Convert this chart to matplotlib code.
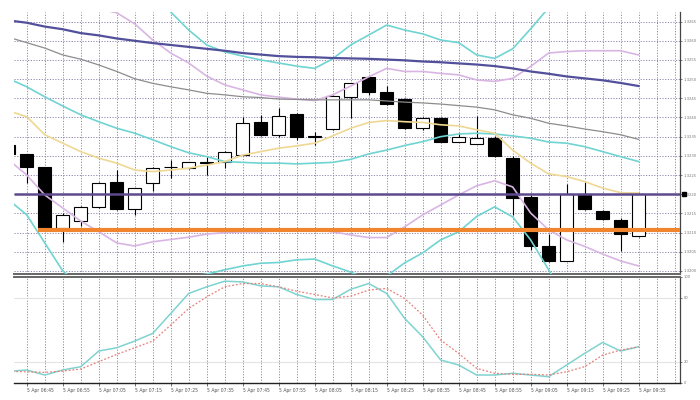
import matplotlib.pyplot as plt
import matplotlib.transforms as mtransforms
import numpy as np

# 5-minute candles, bar 0 is 5 Apr 06:40
opens = [1.32328, 1.32304, 1.32270, 1.32111, 1.32129, 1.32167, 1.32232, 1.32161, 1.32229, 1.32270,
         1.32268, 1.32282, 1.32283, 1.32302, 1.32388, 1.32355, 1.32409, 1.32349, 1.32369, 1.32454,
         1.32505, 1.32467, 1.32448, 1.32372, 1.32398, 1.32337, 1.32331, 1.32347, 1.32295, 1.32194,
         1.32065, 1.32027, 1.32201, 1.32156, 1.32133, 1.32091]
highs = [1.32331, 1.32305, 1.32271, 1.32151, 1.32169, 1.32232, 1.32263, 1.32217, 1.32271, 1.32289,
         1.32285, 1.32297, 1.32312, 1.32401, 1.32407, 1.32424, 1.32411, 1.32363, 1.32459, 1.32490,
         1.32508, 1.32482, 1.32451, 1.32401, 1.32400, 1.32360, 1.32404, 1.32352, 1.32300, 1.32198,
         1.32096, 1.32227, 1.32232, 1.32159, 1.32138, 1.32203]
lows = [1.32300, 1.32229, 1.32109, 1.32076, 1.32117, 1.32164, 1.32159, 1.32146, 1.32209, 1.32242,
        1.32267, 1.32250, 1.32269, 1.32301, 1.32352, 1.32349, 1.32342, 1.32328, 1.32368, 1.32399,
        1.32459, 1.32433, 1.32370, 1.32368, 1.32336, 1.32336, 1.32330, 1.32297, 1.32146, 1.32055,
        1.32023, 1.32026, 1.32159, 1.32133, 1.32052, 1.32089]
closes = [1.32305, 1.32272, 1.32111, 1.32146, 1.32167, 1.32229, 1.32161, 1.32216, 1.32268, 1.32272,
          1.32284, 1.32284, 1.32310, 1.32385, 1.32355, 1.32405, 1.32349, 1.32351, 1.32456, 1.32489,
          1.32467, 1.32435, 1.32372, 1.32398, 1.32337, 1.32349, 1.32347, 1.32299, 1.32190, 1.32065,
          1.32026, 1.32201, 1.32162, 1.32136, 1.32096, 1.32201]

# indicators on the price window
slow_ma = [1.32653, 1.32647, 1.32637, 1.32630, 1.32620, 1.32614, 1.32606, 1.32600, 1.32594, 1.32589,
           1.32584, 1.32579, 1.32574, 1.32568, 1.32564, 1.32560, 1.32558, 1.32557, 1.32555, 1.32554,
           1.32553, 1.32551, 1.32549, 1.32546, 1.32544, 1.32541, 1.32538, 1.32534, 1.32528, 1.32520,
           1.32514, 1.32507, 1.32502, 1.32497, 1.32490, 1.32482]
mid_ma = [1.32609, 1.32595, 1.32581, 1.32563, 1.32552, 1.32537, 1.32520, 1.32501, 1.32489, 1.32480,
          1.32472, 1.32463, 1.32459, 1.32454, 1.32452, 1.32448, 1.32447, 1.32446, 1.32446, 1.32446,
          1.32446, 1.32443, 1.32440, 1.32438, 1.32435, 1.32431, 1.32427, 1.32420, 1.32407, 1.32398,
          1.32385, 1.32378, 1.32370, 1.32363, 1.32355, 1.32343]
bb_mid = [1.32501, 1.32480, 1.32454, 1.32430, 1.32407, 1.32389, 1.32372, 1.32359, 1.32342, 1.32324,
          1.32308, 1.32298, 1.32285, 1.32283, 1.32281, 1.32281, 1.32279, 1.32281, 1.32283, 1.32291,
          1.32305, 1.32315, 1.32327, 1.32337, 1.32350, 1.32357, 1.32359, 1.32357, 1.32352, 1.32346,
          1.32336, 1.32333, 1.32324, 1.32311, 1.32298, 1.32285]
bb_upper = [1.32816, 1.32816, 1.32837, 1.32855, 1.32850, 1.32837, 1.32811, 1.32764, 1.32727, 1.32675,
            1.32628, 1.32589, 1.32571, 1.32560, 1.32550, 1.32542, 1.32534, 1.32528, 1.32553, 1.32589,
            1.32615, 1.32641, 1.32628, 1.32618, 1.32602, 1.32595, 1.32563, 1.32554, 1.32579, 1.32631,
            1.32686, 1.32746, 1.32785, 1.32811, 1.32824, 1.32832]
bb_lower = [1.32185, 1.32146, 1.32073, 1.32000, 1.31963, 1.31940, 1.31935, 1.31950, 1.31956, 1.31974,
            1.31984, 1.31992, 1.32003, 1.32013, 1.32020, 1.32022, 1.32029, 1.32031, 1.32013, 1.31997,
            1.31977, 1.31987, 1.32021, 1.32047, 1.32081, 1.32102, 1.32142, 1.32167, 1.32141, 1.32081,
            1.32003, 1.31924, 1.31872, 1.31833, 1.31807, 1.31781]
env_upper = [1.32720, 1.32720, 1.32714, 1.32706, 1.32696, 1.32683, 1.32673, 1.32644, 1.32602, 1.32568,
             1.32542, 1.32508, 1.32485, 1.32472, 1.32459, 1.32453, 1.32448, 1.32444, 1.32459, 1.32482,
             1.32506, 1.32528, 1.32520, 1.32520, 1.32515, 1.32511, 1.32498, 1.32494, 1.32502, 1.32533,
             1.32568, 1.32572, 1.32574, 1.32574, 1.32574, 1.32563]
env_lower = [1.32289, 1.32250, 1.32198, 1.32164, 1.32130, 1.32102, 1.32073, 1.32065, 1.32076, 1.32082,
             1.32088, 1.32096, 1.32100, 1.32102, 1.32102, 1.32105, 1.32108, 1.32107, 1.32102, 1.32094,
             1.32087, 1.32087, 1.32115, 1.32146, 1.32172, 1.32198, 1.32222, 1.32235, 1.32219, 1.32151,
             1.32107, 1.32081, 1.32064, 1.32044, 1.32026, 1.32013]
fast_ma = [1.32417, 1.32402, 1.32355, 1.32333, 1.32311, 1.32294, 1.32281, 1.32263, 1.32259, 1.32263,
           1.32268, 1.32276, 1.32285, 1.32302, 1.32311, 1.32320, 1.32326, 1.32333, 1.32352, 1.32372,
           1.32387, 1.32392, 1.32389, 1.32387, 1.32381, 1.32378, 1.32368, 1.32359, 1.32315, 1.32281,
           1.32253, 1.32246, 1.32233, 1.32216, 1.32204, 1.32203]

resistance = 1.32200
support = 1.32108
support_from = 2

# stochastic window
stoch_k = [11, 12.2, 7.5, 12.2, 15.3, 30, 33.1, 39.4, 46.6, 65.3, 84.1, 90.3, 95.6, 94.9, 91.2, 90.3,
           83.1, 78.4, 78.4, 88, 93.4, 84.1, 60.6, 43.4, 21.6, 16.9, 7.5, 7.5, 9.1, 7.5, 5.9, 16.9,
           27.8, 38.1, 30, 34]
stoch_d = [11, 10.5, 10, 11.2, 13.1, 20, 26.9, 33.1, 39.4, 54.4, 70, 80.9, 90.3, 93.4, 93.4, 90.3,
           86.2, 83.1, 79.9, 81.5, 87.2, 88.8, 79.4, 63.7, 40.3, 27.8, 13.8, 9.1, 8.2, 8.2, 7.5, 10.6,
           15.3, 26.2, 30.9, 34]

label_bars = [1, 3, 5, 7, 9, 11, 13, 15, 17, 19, 21, 23, 25, 27, 29, 31, 33, 35]
label_texts = ['5 Apr 06:45', '5 Apr 06:55', '5 Apr 07:05', '5 Apr 07:15', '5 Apr 07:25', '5 Apr 07:35',
               '5 Apr 07:45', '5 Apr 07:55', '5 Apr 08:05', '5 Apr 08:15', '5 Apr 08:25', '5 Apr 08:35',
               '5 Apr 08:45', '5 Apr 08:55', '5 Apr 09:05', '5 Apr 09:15', '5 Apr 09:25', '5 Apr 09:35']
price_ticks = [1.3200, 1.3205, 1.3210, 1.3215, 1.3220, 1.3225, 1.3230, 1.3235, 1.3240, 1.3245,
               1.3250, 1.3255, 1.3260, 1.3265]
stoch_ticks = [0, 20, 80, 100]

GRID = '#8f86b0'
DOTS = (0, (1.2, 1.6))
XMIN, XMAX = 0.29, 37.3

fig = plt.figure(figsize=(7, 4), dpi=100)
ax = fig.add_axes([0.02, 0.315, 0.9514, 0.655])
ax2 = fig.add_axes([0.02, 0.0425, 0.9514, 0.26625])

for a in (ax, ax2):
    a.set_xlim(XMIN, XMAX)
    for b in range(1, 38):
        a.axvline(b, color=GRID, lw=0.7, ls=DOTS, zorder=0)
    a.spines['left'].set_visible(False)
    a.spines['top'].set_visible(False)
    a.spines['right'].set_color('#444444')
    a.spines['right'].set_linewidth(0.9)
    a.yaxis.tick_right()
    a.tick_params(axis='y', length=1.5, width=0.6, color='#666666', labelsize=2.7,
                  labelcolor='#777777', pad=1)

# price window
ax.set_ylim(1.31992, 1.32675)
ax.set_yticks(price_ticks)
ax.set_yticklabels([f'{t:.4f}' for t in price_ticks])
for t in price_ticks:
    ax.axhline(t, color=GRID, lw=0.7, ls=DOTS, zorder=0)
ax.tick_params(axis='x', bottom=False, labelbottom=False)
ax.spines['bottom'].set_color('#666666')
ax.spines['bottom'].set_linewidth(1.4)

bars = np.arange(len(opens))
o = np.array(opens)
c = np.array(closes)
body_w = 0.74
bull = c >= o
ax.vlines(bars, lows, highs, color='black', lw=0.8, zorder=2)
ax.bar(bars, np.maximum(np.abs(c - o), 0.000012), bottom=np.minimum(o, c), width=body_w,
       color=np.where(bull, 'white', 'black'), edgecolor='black', linewidth=0.8, zorder=3)

ax.plot(bars, env_upper, color='#d9b5e3', lw=1.2, zorder=4)
ax.plot(bars, env_lower, color='#d9b5e3', lw=1.2, zorder=4)
ax.plot(bars, bb_upper, color='#6fd4d2', lw=1.2, zorder=4)
ax.plot(bars, bb_mid, color='#6fd4d2', lw=1.2, zorder=4)
ax.plot(bars, bb_lower, color='#6fd4d2', lw=1.2, zorder=4)
ax.plot(bars, mid_ma, color='#8c8c8c', lw=0.9, zorder=4)
ax.plot(bars, fast_ma, color='#efd893', lw=1.2, zorder=4)
ax.plot(bars, slow_ma, color='#52509a', lw=1.6, zorder=4)

ax.hlines(resistance, XMIN, XMAX, color='#5d4a8e', lw=1.8, zorder=5)
ax.hlines(support, support_from - body_w / 2, XMAX, color='#f0852d', lw=3, zorder=5)

trans = mtransforms.blended_transform_factory(ax.transAxes, ax.transData)
ax.plot([1.006], [closes[-1]], marker='s', ms=3.2, color='black', transform=trans, clip_on=False)

# stochastic window
ax2.set_ylim(0, 100)
ax2.set_yticks(stoch_ticks)
ax2.set_yticklabels([str(t) for t in stoch_ticks])
ax2.axhline(20, color='#dddddd', lw=0.6, zorder=0)
ax2.axhline(80, color='#dddddd', lw=0.6, zorder=0)
ax2.plot(bars, stoch_k, color='#7fd3d0', lw=1.1, zorder=3)
ax2.plot(bars, stoch_d, color='#e6807c', lw=0.9, ls=(0, (1.5, 1.5)), zorder=3)
ax2.spines['top'].set_color('#666666')
ax2.spines['top'].set_visible(True)
ax2.spines['top'].set_linewidth(1.4)
ax2.spines['bottom'].set_color('#222222')
ax2.spines['bottom'].set_linewidth(1.0)
ax2.set_xticks(label_bars)
ax2.set_xticklabels(label_texts, ha='left', fontsize=3.3, color='#555555')
ax2.tick_params(axis='x', length=2, width=0.6, color='#555555', pad=1.5)

fig.savefig('out.png', dpi=100, facecolor='white')
